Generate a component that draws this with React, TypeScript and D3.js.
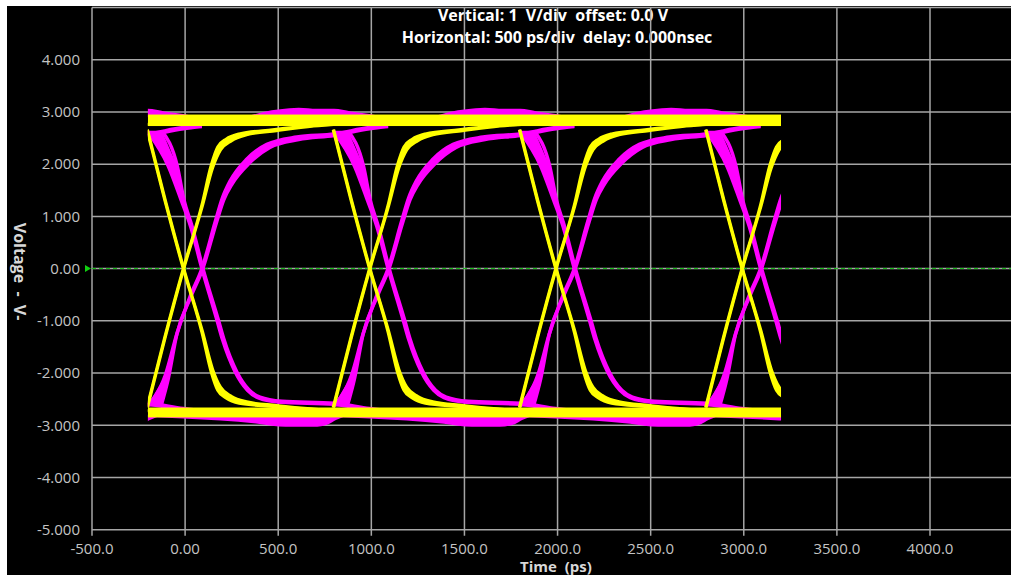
import React from "react";
import * as d3 from "d3";

// axis ticks
const yTicks = [4, 3, 2, 1, 0, -1, -2, -3, -4, -5];
const yTickLabels = ["4.000", "3.000", "2.000", "1.000", "0.00", "-1.000", "-2.000", "-3.000", "-4.000", "-5.000"];
const xTicks = [-500, 0, 500, 1000, 1500, 2000, 2500, 3000, 3500, 4000];
const xTickLabels = ["-500.0", "0.00", "500.0", "1000.0", "1500.0", "2000.0", "2500.0", "3000.0", "3500.0", "4000.0"];

// acquisition window (ps) and crossing times of each channel (ps)
const windowRange = [-200, 3200];
const yellowCrossings = [-1010, -10, 990, 1990, 2990];
const magentaCrossings = [-910, 90, 1090, 2090, 3090];

// steady-level bands (V)
const yellowHighBand = [2.73, 2.95];
const yellowLowBand = [-2.66, -2.85];

// edge shapes, [ps from crossing, V]; A/B are the two sides of the trace bundle
const yellowRiseA = [[-195, -2.66], [-100, -1.32], [0, 0], [100, 1.22], [150, 1.98], [185, 2.33], [230, 2.48], [300, 2.58], [480, 2.66], [700, 2.74], [1000, 2.8]];
const yellowRiseB = [[-192, -2.66], [-97, -1.32], [3, 0], [103, 1.2], [158, 1.93], [200, 2.27], [260, 2.45], [340, 2.56], [500, 2.64], [700, 2.73], [1000, 2.8]];
const yellowFallA = [[-195, 2.66], [-100, 1.32], [0, 0], [100, -1.22], [150, -1.98], [185, -2.33], [230, -2.48], [300, -2.58], [480, -2.64], [700, -2.7], [1000, -2.76]];
const yellowFallB = [[-192, 2.66], [-97, 1.32], [3, 0], [103, -1.2], [158, -1.93], [200, -2.27], [260, -2.45], [340, -2.55], [500, -2.62], [700, -2.69], [1000, -2.76]];

const magentaRiseA = [[-295, -2.64], [-197, -2.05], [-134, -1.25], [-63, -0.53], [0, 0], [72, 0.9], [110, 1.35], [152, 1.68], [242, 2.1], [349, 2.38], [510, 2.52], [710, 2.58], [900, 2.7], [1000, 2.73]];
const magentaRiseB = [[-220, -2.64], [-180, -2.1], [-134, -1.25], [-58, -0.53], [5, 0], [78, 0.88], [118, 1.32], [162, 1.62], [255, 2.02], [365, 2.32], [520, 2.47], [710, 2.55], [900, 2.68], [1000, 2.72]];
const magentaFallA = [[-295, 2.64], [-180, 1.96], [-110, 1.3], [-60, 0.8], [0, 0], [82, -1.0], [110, -1.35], [179, -1.98], [245, -2.33], [300, -2.47], [420, -2.56], [710, -2.6], [900, -2.7], [1000, -2.72]];
const magentaFallB = [[-215, 2.64], [-132, 1.96], [-95, 1.3], [-52, 0.8], [6, 0], [90, -1.0], [118, -1.35], [188, -1.98], [255, -2.33], [312, -2.46], [430, -2.54], [710, -2.58], [900, -2.68], [1000, -2.72]];

// magenta overshoot above / below the yellow bands
const magentaHump = [[250, 2.92], [330, 3.0], [420, 3.05], [520, 3.08], [620, 3.06], [710, 3.06], [800, 3.01], [900, 2.96], [960, 2.92]];
const magentaDip = [[-280, -2.84], [-100, -2.87], [100, -2.91], [300, -2.97], [450, -3.03], [600, -3.03], [680, -2.98], [720, -2.9], [760, -2.84]];

const W = 1011;
const H = 575;
const YELLOW = "#ffff00";
const MAGENTA = "#ff00ff";
const GRID = "#a6a6a6";
const LABEL = "#c4c4c4";
const FONT = "'Open Sans', 'Noto Sans', sans-serif";
const NB = "\u00a0";

type Pt = number[];

export default function App() {
    const x = d3.scaleLinear().domain([-500, 4000]).range([92, 930]);
    const y = d3.scaleLinear().domain([-5, 5]).range([529.7, 7.5]);
    const plotLeft = x(-500);
    const plotTop = y(5);
    const plotBottom = y(-5);

    const line = d3
        .line<Pt>()
        .x((d) => x(d[0]))
        .y((d) => y(d[1]))
        .curve(d3.curveMonotoneX);
    const poly = d3
        .line<Pt>()
        .x((d) => x(d[0]))
        .y((d) => y(d[1]))
        .curve(d3.curveLinearClosed);
    const humpArea = d3
        .area<Pt>()
        .x((d) => x(d[0]))
        .y0(y(2.9))
        .y1((d) => y(d[1]))
        .curve(d3.curveMonotoneX);
    const dipArea = d3
        .area<Pt>()
        .x((d) => x(d[0]))
        .y0(y(-2.8))
        .y1((d) => y(d[1]))
        .curve(d3.curveMonotoneX);

    const shift = (pts: Pt[], c: number) => pts.map((p) => [p[0] + c, p[1]]);

    // one bundle = filled region between side A and side B, plus both sides stroked
    const bundle = (a: Pt[], b: Pt[], c: number, color: string, sw: number, key: string) => {
        const sa = shift(a, c);
        const sb = shift(b, c);
        return (
            <g key={key}>
                <path d={poly(sa.concat([...sb].reverse())) || ""} fill={color} stroke="none" />
                <path d={line(sa) || ""} fill="none" stroke={color} strokeWidth={sw} />
                <path d={line(sb) || ""} fill="none" stroke={color} strokeWidth={sw} />
            </g>
        );
    };

    const wx0 = x(windowRange[0]);
    const wx1 = x(windowRange[1]);

    return (
        <div style={{ position: "absolute", left: 0, top: 0 }}>
            <svg width={W} height={H} style={{ display: "block" }}>
                <defs>
                    <clipPath id="acq">
                        <rect x={wx0} y={0} width={wx1 - wx0} height={H} />
                    </clipPath>
                </defs>
                <rect x={0} y={0} width={W} height={H} fill="#ffffff" />
                <rect x={7} y={6} width={W - 7} height={H - 6} fill="#000000" />

                {/* header text sits under the grid */}
                <g fontFamily={FONT} fontWeight="bold" fontSize={16} fill="#ffffff" textAnchor="middle">
                    <text x={553} y={21}>{`Vertical: 1${NB}${NB}V/div${NB}${NB}offset: 0.0 V`}</text>
                    <text x={557} y={43}>{`Horizontal: 500 ps/div${NB}${NB}delay: 0.000nsec`}</text>
                </g>

                {/* grid */}
                <g stroke={GRID} strokeWidth={1.5}>
                    {[5, ...yTicks].map((v) => (
                        <line key={"h" + v} x1={plotLeft} x2={W} y1={y(v)} y2={y(v)} />
                    ))}
                    {xTicks.map((t) => (
                        <line key={"v" + t} x1={x(t)} x2={x(t)} y1={plotTop} y2={plotBottom + 6} />
                    ))}
                </g>

                {/* tick labels */}
                <g fontFamily={FONT} fontSize={15} fill={LABEL}>
                    {yTicks.map((v, i) => (
                        <text key={"yl" + v} x={80} y={y(v)} dy="0.35em" textAnchor="end">
                            {yTickLabels[i]}
                        </text>
                    ))}
                    {xTicks.map((t, i) => (
                        <text key={"xl" + t} x={x(t)} y={554} textAnchor="middle">
                            {xTickLabels[i]}
                        </text>
                    ))}
                </g>

                {/* axis titles */}
                <text x={556} y={572} fontFamily={FONT} fontWeight="bold" fontSize={15} fill="#d8d8d8" textAnchor="middle">
                    {`Time${NB}${NB}(ps)`}
                </text>
                <text
                    transform={`translate(20,${y(0) + 3}) rotate(90)`}
                    fontFamily={FONT}
                    fontWeight="bold"
                    fontSize={16}
                    fill="#d8d8d8"
                    textAnchor="middle"
                    dy="0.35em"
                >
                    {`Voltage${NB}${NB}-${NB}${NB}V-`}
                </text>

                {/* zero reference */}
                <line x1={plotLeft} x2={W} y1={y(0)} y2={y(0)} stroke="#10c010" strokeWidth={1} strokeDasharray="4 3" />
                <path d={`M${plotLeft - 7},${y(0) - 3.5}L${plotLeft - 1},${y(0)}L${plotLeft - 7},${y(0) + 3.5}Z`} fill="#10d010" />

                {/* eye traces */}
                <g clipPath="url(#acq)">
                    {magentaCrossings.map((c, i) => (
                        <g key={"m" + i}>
                            <path d={humpArea(shift(magentaHump, c)) || ""} fill={MAGENTA} />
                            <path d={dipArea(shift(magentaDip, c)) || ""} fill={MAGENTA} />
                            {bundle(magentaRiseA, magentaRiseB, c, MAGENTA, 3.5, "mr")}
                            {bundle(magentaFallA, magentaFallB, c, MAGENTA, 3.5, "mf")}
                        </g>
                    ))}
                    <rect x={wx0} width={wx1 - wx0} y={y(yellowHighBand[1])} height={y(yellowHighBand[0]) - y(yellowHighBand[1])} fill={YELLOW} />
                    <rect x={wx0} width={wx1 - wx0} y={y(yellowLowBand[0])} height={y(yellowLowBand[1]) - y(yellowLowBand[0])} fill={YELLOW} />
                    {yellowCrossings.map((c, i) => (
                        <g key={"y" + i}>
                            {bundle(yellowRiseA, yellowRiseB, c, YELLOW, 3, "yr")}
                            {bundle(yellowFallA, yellowFallB, c, YELLOW, 3, "yf")}
                        </g>
                    ))}
                </g>
            </svg>
        </div>
    );
}
